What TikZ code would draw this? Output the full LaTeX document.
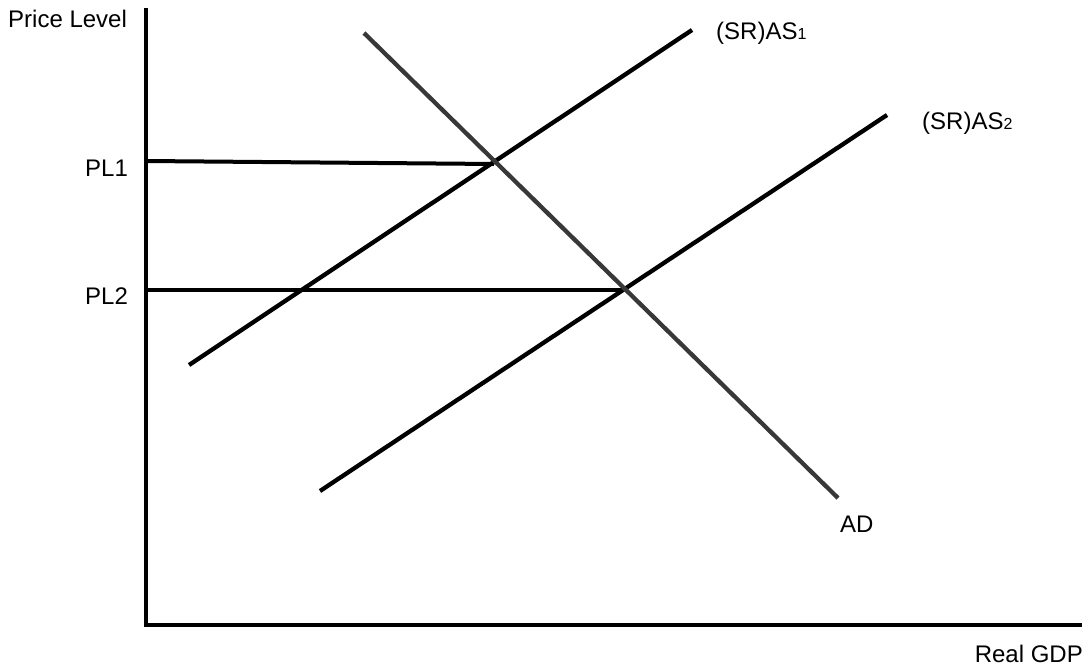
\documentclass[tikz,border=0pt]{standalone}
\usepackage{fontspec}
\setmainfont{Liberation Sans}
\begin{document}
\begin{tikzpicture}[x=1pt,y=-1pt,
  lbl/.style={inner sep=0pt,anchor=base west,font=\fontsize{24}{26}\selectfont},
  axis/.style={line width=3.6pt,black},
  curve/.style={line width=4.3pt,black},
  adcurve/.style={line width=4.3pt,black!78},
  lvl/.style={line width=4pt,black}]
\useasboundingbox (0,0) rectangle (1086,666);
\newcommand{\sbs}[1]{{\fontsize{16}{16}\selectfont #1}}
% axes
\coordinate (ytop) at (146,8);
\coordinate (orig) at (146,625);
\coordinate (xend) at (1082,625);
\draw[axis] (ytop) -- (orig) -- (xend);
% curves
\coordinate (ad1) at (364,33);
\coordinate (ad2) at (838,498);
\coordinate (as1a) at (189,365);
\coordinate (as1b) at (692,30);
\coordinate (as2a) at (320,491);
\coordinate (as2b) at (887,115);
\coordinate (e1) at (494,164);
\coordinate (e2) at (623,290);
\coordinate (p1) at (146,161);
\coordinate (p2) at (146,290);
\draw[lvl] (p1) -- (e1);
\draw[lvl] (p2) -- (e2);
\draw[curve] (as1a) -- (as1b);
\draw[curve] (as2a) -- (as2b);
\draw[adcurve] (ad1) -- (ad2);
% labels
\node[lbl] (tpl) at (8,28) {Price Level};
\node[lbl] (tas1) at (716,40) {(SR)AS\sbs{1}};
\node[lbl] (tas2) at (922,129) {(SR)AS\sbs{2}};
\node[lbl] (tp1) at (85,176) {PL1};
\node[lbl] (tp2) at (85,304) {PL2};
\node[lbl] (tad) at (840,532) {AD};
\node[lbl,anchor=base east] (tgdp) at (1083,662) {Real GDP};
\end{tikzpicture}
\end{document}
